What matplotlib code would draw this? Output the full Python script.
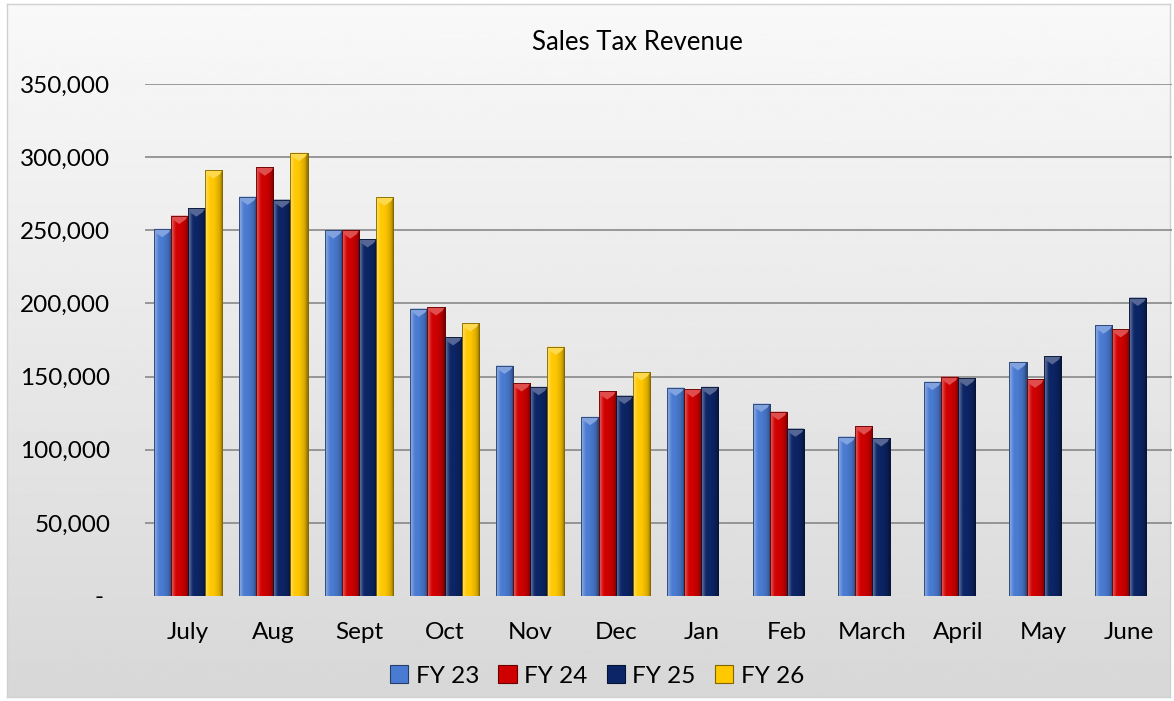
import numpy as np
import matplotlib.pyplot as plt
import matplotlib.colors as mcolors
from matplotlib.patches import Patch, Polygon
from matplotlib.ticker import FuncFormatter, MultipleLocator

months = ["July", "Aug", "Sept", "Oct", "Nov", "Dec", "Jan", "Feb", "March", "April", "May", "June"]
fy23 = [251000, 273000, 250000, 196500, 157500, 122500, 142500, 131500, 109000, 146500, 160000, 185000]
fy24 = [260000, 293000, 250000, 197500, 145500, 140000, 141500, 126000, 116000, 150000, 148000, 182500]
fy25 = [265000, 271000, 244000, 177000, 143000, 137000, 143000, 114500, 108000, 149000, 164000, 204000]
fy26 = [291000, 303000, 272500, 186500, 170500, 153000, np.nan, np.nan, np.nan, np.nan, np.nan, np.nan]

labels = ["FY 23", "FY 24", "FY 25", "FY 26"]
values = [fy23, fy24, fy25, fy26]
colors = ["#4a7bd2", "#d10000", "#0c2566", "#ffc800"]

plt.rcParams['font.family'] = ['Lato', 'DejaVu Sans']


def shade(c, f):
    r = np.array(mcolors.to_rgb(c))
    if f >= 1:
        return tuple(r + (1 - r) * (f - 1))
    return tuple(r * f)


W, H = 1174, 701
fig = plt.figure(figsize=(W / 100, H / 100), dpi=100, facecolor="white")

# chart area with vertical gradient and thin border
bg = fig.add_axes([7 / W, 4 / H, (1170 - 7) / W, (697 - 4) / H], zorder=-10)
grad = np.linspace(0.975, 0.845, 256)[:, None]
bg.imshow(grad, cmap="gray", vmin=0, vmax=1, aspect="auto", extent=[0, 1, 0, 1])
bg.set_xticks([])
bg.set_yticks([])
for s in bg.spines.values():
    s.set_color("#d0d0d0")
    s.set_linewidth(1)

ax = fig.add_axes([145 / W, 1 - 596 / H, 1027 / W, 512 / H])
ax.set_facecolor("none")

x = np.arange(len(months))
bw = 0.2
ymax = 350000

# horizontal shading across a bar: light left edge, dark right edge
prof = np.array([1.35, 1.2, 1.05, 1.0, 1.0, 0.97, 0.93, 0.88, 0.8, 0.6])

for i, (lab, vals, col) in enumerate(zip(labels, values, colors)):
    off = (i - 1.5) * bw
    bars = ax.bar(x + off, vals, bw, color=col, edgecolor=shade(col, 0.55),
                  linewidth=0.6, zorder=3)
    img = np.array([[shade(col, f) for f in prof]])
    for b, v in zip(bars, vals):
        if np.isnan(v):
            continue
        x0 = b.get_x()
        x1 = x0 + b.get_width()
        im = ax.imshow(img, aspect="auto", extent=[x0, x1, 0, v], zorder=3.5,
                       interpolation="bilinear")
        im.set_clip_path(b)
        d = 2600
        top = Polygon([(x0, v), (x1, v), (x1 - bw * 0.12, v - d),
                       (x0 + bw * 0.5, v - 2.2 * d), (x0 + bw * 0.12, v - d)],
                      closed=True, facecolor=shade(col, 1.3), edgecolor="none", zorder=4)
        ax.add_patch(top)
        ax.add_patch(Polygon([(x0, v), (x1, v), (x1, 0), (x0, 0)], closed=True,
                             fill=False, edgecolor=shade(col, 0.5), linewidth=0.6, zorder=4.5))

ax.set_xlim(-0.5, len(months) - 0.5)
ax.set_ylim(0, ymax)

ax.yaxis.set_major_locator(MultipleLocator(50000))
ax.yaxis.set_major_formatter(FuncFormatter(lambda v, _: "- " if v == 0 else f"{v:,.0f}"))
for yv in range(50000, ymax + 1, 50000):
    ax.axhline(yv, color="#808080", linewidth=1.1, zorder=1)

ax.set_xticks(x)
ax.set_xticklabels(months)
ax.tick_params(axis="both", length=0, labelsize=17.5, colors="black")
ax.tick_params(axis="y", pad=25)
ax.tick_params(axis="x", pad=19)
for s in ax.spines.values():
    s.set_visible(False)

fig.text(637 / W, 1 - 42 / H, "Sales Tax Revenue", ha="center", va="center", fontsize=18.5)

handles = [Patch(facecolor=c, edgecolor=shade(c, 0.5), linewidth=0.8) for c in colors]
fig.legend(handles, labels, loc="center", bbox_to_anchor=(597 / W, 1 - 676 / H), ncol=4,
           frameon=False, fontsize=17.5, handlelength=0.75, handleheight=0.75,
           handletextpad=0.3, columnspacing=0.8)

fig.savefig("out.png", dpi=100)
